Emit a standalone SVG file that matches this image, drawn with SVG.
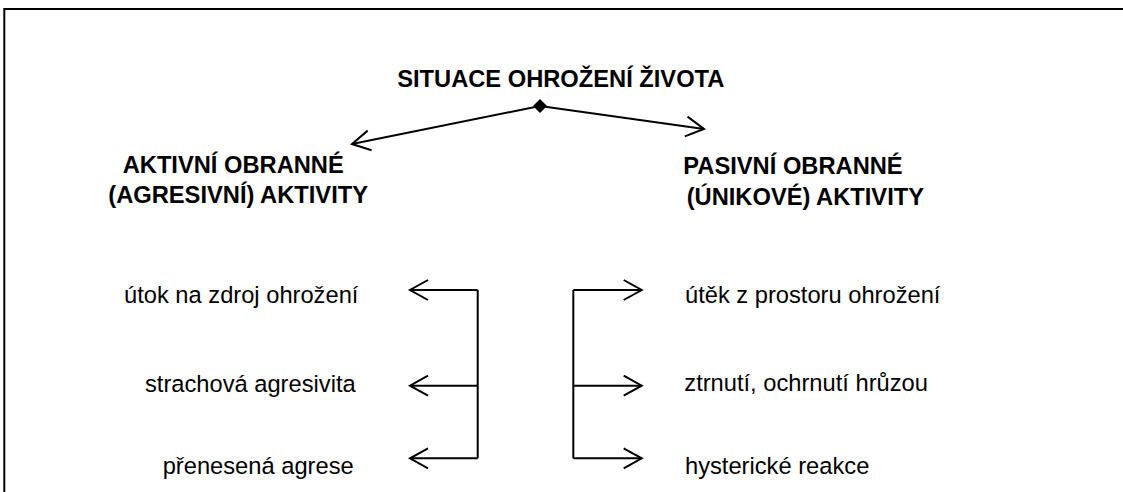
<svg xmlns="http://www.w3.org/2000/svg" width="1123" height="492" viewBox="0 0 1123 492">
<style>
.t{font-family:"Liberation Sans",Arial,sans-serif;font-size:23.7px;fill:#000}
.b{font-weight:bold}
.ln{fill:none;stroke:#000;stroke-width:2}
</style>
<defs>
<marker id="ah" markerUnits="userSpaceOnUse" markerWidth="24" markerHeight="26" viewBox="-20 -12 24 24" refX="0" refY="0" orient="auto">
<path d="M-18,-10 L0,0 L-18,10" fill="none" stroke="#000" stroke-width="2"/>
</marker>
</defs>
<rect width="1123" height="492" fill="#fff"/>
<path class="ln" d="M4.3,492 V9 H1123"/>
<g id="title"><text class="t b" x="560.8" y="86.5" text-anchor="middle">SITUACE OHROŽENÍ ŽIVOTA</text></g>
<g id="active"><text class="t b" x="122.7" y="173">AKTIVNÍ OBRANNÉ</text><text class="t b" x="108.3" y="203">(AGRESIVNÍ) AKTIVITY</text></g>
<g id="passive"><text class="t b" x="683.3" y="174">PASIVNÍ OBRANNÉ</text><text class="t b" x="686.7" y="205">(ÚNIKOVÉ) AKTIVITY</text></g>
<g id="a1"><text class="t" x="124" y="303.3">útok na zdroj ohrožení</text></g>
<g id="a2"><text class="t" x="145" y="391.5">strachová agresivita</text></g>
<g id="a3"><text class="t" x="162.7" y="474">přenesená agrese</text></g>
<g id="p1"><text class="t" x="685" y="303.3">útěk z prostoru ohrožení</text></g>
<g id="p2"><text class="t" x="684.3" y="391">ztrnutí, ochrnutí hrůzou</text></g>
<g id="p3"><text class="t" x="685" y="474">hysterické reakce</text></g>
<g id="connectors">
<path d="M540,99 L547,106 L540,113 L533,106 Z" fill="#000"/>
<path class="ln" d="M540,106 L352,144" marker-end="url(#ah)"/>
<path class="ln" d="M540,106 L704,129" marker-end="url(#ah)"/>
<path class="ln" d="M477.7,290 V458.3"/>
<path class="ln" d="M477.7,290 H410" marker-end="url(#ah)"/>
<path class="ln" d="M477.7,385.7 H410" marker-end="url(#ah)"/>
<path class="ln" d="M477.7,458.3 H410" marker-end="url(#ah)"/>
<path class="ln" d="M573.3,290 V458.3"/>
<path class="ln" d="M573.3,290 H641.7" marker-end="url(#ah)"/>
<path class="ln" d="M573.3,385.7 H641.7" marker-end="url(#ah)"/>
<path class="ln" d="M573.3,458.3 H641.7" marker-end="url(#ah)"/>
</g>
</svg>
